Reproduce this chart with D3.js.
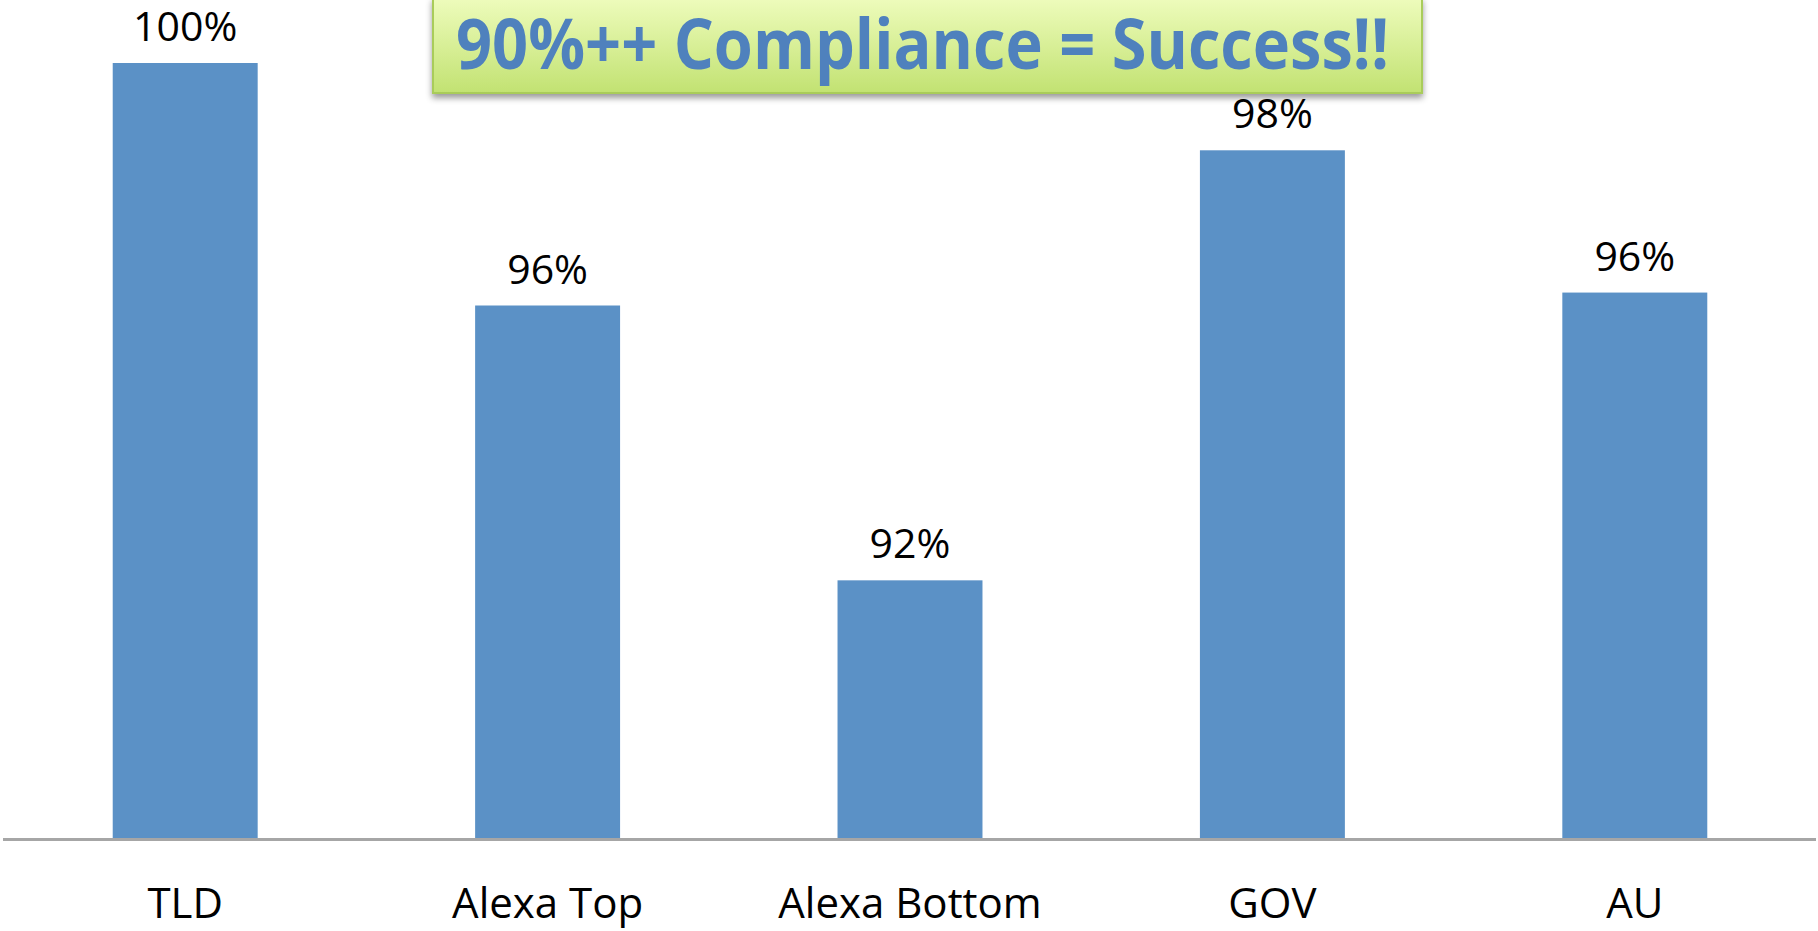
<!doctype html>
<html>
<head>
<meta charset="utf-8">
<style>
  body { margin: 0; background: #fff; }
  .bar { fill: #5b91c6; }
  .val, .cat { font-family: "Open Sans", "Noto Sans", sans-serif; font-size: 41px; fill: #000; }
  .cat { font-size: 42px; }
  .title { font-family: "Open Sans", "Noto Sans", sans-serif; font-weight: bold; font-size: 70px; fill: #4f81bd; }
</style>
<script src="https://d3js.org/d3.v7.min.js"></script>
</head>
<body>
<svg width="1818" height="931"></svg>
<script>
var categories = ["TLD", "Alexa Top", "Alexa Bottom", "GOV", "AU"];
var values = [100, 96.25, 92.0, 98.65, 96.45];
var valueLabels = ["100%", "96%", "92%", "98%", "96%"];
var titleText = "90%++ Compliance = Success!!";

var svg = d3.select("svg");

var x = d3.scaleBand().domain(categories).range([4, 1816]).paddingInner(0.6).paddingOuter(0.3);
var y = d3.scaleLinear().domain([88, 100]).range([839, 63]);

var defs = svg.append("defs");
var grad = defs.append("linearGradient").attr("id", "boxGrad")
    .attr("x1", 0).attr("y1", 0).attr("x2", 0).attr("y2", 1);
grad.append("stop").attr("offset", "0%").attr("stop-color", "#eefcbc");
grad.append("stop").attr("offset", "100%").attr("stop-color", "#c2e272");
var shadow = defs.append("filter").attr("id", "shadow")
    .attr("x", "-5%").attr("y", "-20%").attr("width", "110%").attr("height", "150%");
shadow.append("feDropShadow").attr("dx", 0).attr("dy", 4).attr("stdDeviation", 3)
    .attr("flood-color", "#000").attr("flood-opacity", 0.4);

// bars
svg.selectAll(".bar")
  .data(values)
  .enter().append("rect")
  .attr("class", "bar")
  .attr("x", function(d, i) { return x(categories[i]); })
  .attr("y", function(d) { return y(d); })
  .attr("width", x.bandwidth())
  .attr("height", function(d) { return y(88) - y(d); });

// value labels
svg.selectAll(".val")
  .data(values)
  .enter().append("text")
  .attr("class", "val")
  .attr("text-anchor", "middle")
  .attr("x", function(d, i) { return x(categories[i]) + x.bandwidth() / 2; })
  .attr("y", function(d) { return y(d) - 22; })
  .text(function(d, i) { return valueLabels[i]; });

// baseline axis
var axis = svg.append("g").attr("transform", "translate(0," + y(88) + ")")
  .call(d3.axisBottom(x).tickSize(0).tickPadding(79));
axis.select(".domain").attr("stroke", "#a6a6a6").attr("stroke-width", 3)
  .attr("d", "M3,0.5H1816");
axis.selectAll("text").attr("class", "cat").attr("font-size", null).attr("font-family", null)
  .attr("fill", "#000").attr("dy", 0);

// title box
svg.append("rect")
  .attr("x", 433).attr("y", -2).attr("width", 989).attr("height", 95)
  .attr("fill", "url(#boxGrad)")
  .attr("stroke", "#a9cc5a").attr("stroke-width", 2)
  .attr("filter", "url(#shadow)");
svg.append("text")
  .attr("class", "title")
  .attr("x", 456).attr("y", 69)
  .attr("textLength", 933).attr("lengthAdjust", "spacingAndGlyphs")
  .text(titleText);
</script>
</body>
</html>
